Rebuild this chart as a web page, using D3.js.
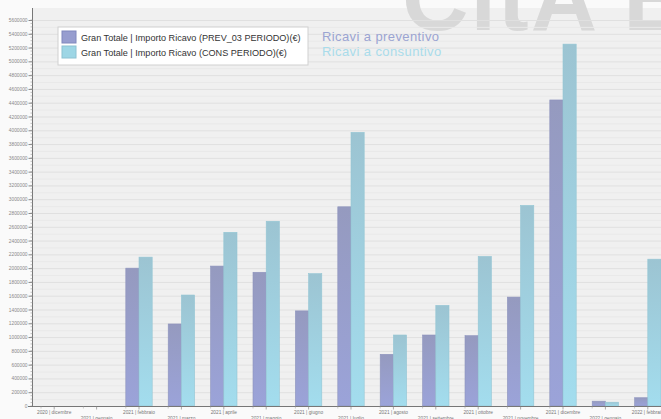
<!DOCTYPE html>
<html>
<head>
<meta charset="utf-8">
<script src="https://cdn.jsdelivr.net/npm/d3@7/dist/d3.min.js"></script>
<style>
  body { margin: 0; background: #fafafa; }
  svg { display: block; font-family: "Liberation Sans", Arial, sans-serif; }
</style>
</head>
<body>
<div id="chart"></div>
<script>

var width = 661;
var height = 419;

// periods on the x axis
var periodi = ['2020 | dicembre', '2021 | gennaio', '2021 | febbraio', '2021 | marzo', '2021 | aprile',
  '2021 | maggio', '2021 | giugno', '2021 | luglio', '2021 | agosto', '2021 | settembre',
  '2021 | ottobre', '2021 | novembre', '2021 | dicembre', '2022 | gennaio', '2022 | febbraio'];

// Gran Totale | Importo Ricavo (PREV_03 PERIODO)
var preventivo = [0, 0, 2000000, 1190000, 2030000, 1940000, 1380000, 2890000, 750000, 1030000,
  1020000, 1580000, 4440000, 70000, 120000];

// Gran Totale | Importo Ricavo (CONS PERIODO)
var consuntivo = [0, 0, 2160000, 1610000, 2520000, 2680000, 1920000, 3970000, 1030000, 1460000,
  2170000, 2910000, 5250000, 55000, 2130000];

var serie = ['Gran Totale | Importo Ricavo (PREV_03 PERIODO)(€)', 'Gran Totale | Importo Ricavo (CONS PERIODO)(€)'];
var yTicks = d3.range(0, 5600001, 200000);

var colPrev = '#979dcf', colCons = '#9dd6e5';

var svg = d3.select('#chart').append('svg')
  .attr('width', width).attr('height', height);

var defs = svg.append('defs');
function grad(id, top, bottom) {
  var g = defs.append('linearGradient').attr('id', id)
    .attr('x1', 0).attr('y1', 0).attr('x2', 0).attr('y2', 1);
  g.append('stop').attr('offset', '0%').attr('stop-color', top);
  g.append('stop').attr('offset', '100%').attr('stop-color', bottom);
}
grad('gPrev', '#959abf', '#9ba3d9');
grad('gCons', '#9cc4d2', '#a3ddee');

var x = d3.scaleBand().domain(periodi).range([33, 33 + 15 * 42.4]);
var xSub = d3.scaleBand().domain([0, 1]).range([8, x.bandwidth() - 8]);
var y = d3.scaleLinear().domain([0, 5600000]).range([406, 20]);

// plot background
svg.append('rect').attr('x', 32).attr('y', 8).attr('width', width - 32).attr('height', 398)
  .attr('fill', '#f0f0f0');

// watermark
svg.append('text').attr('x', 402).attr('y', 30)
  .attr('font-size', 92).attr('font-weight', 'bold')
  .attr('fill', '#d8d8d8').attr('letter-spacing', 2)
  .text('CitA BI');

// grid
svg.append('g').selectAll('line').data(yTicks.slice(1)).enter().append('line')
  .attr('x1', 32).attr('x2', width)
  .attr('y1', d => y(d) + 0.5).attr('y2', d => y(d) + 0.5)
  .attr('stroke', '#e0e0e0').attr('stroke-width', 1);
svg.append('g').selectAll('line').data(yTicks.slice(1)).enter().append('line')
  .attr('x1', 32).attr('x2', width)
  .attr('y1', d => y(d - 100000) + 0.5).attr('y2', d => y(d - 100000) + 0.5)
  .attr('stroke', '#e9e9e9').attr('stroke-width', 1);

// bars
var gruppi = svg.append('g').selectAll('g').data(periodi).enter().append('g')
  .attr('transform', d => 'translate(' + x(d) + ',0)');

gruppi.append('rect')
  .attr('x', xSub(0)).attr('width', xSub.bandwidth())
  .attr('y', (d, i) => y(preventivo[i]))
  .attr('height', (d, i) => y(0) - y(preventivo[i]))
  .attr('fill', 'url(#gPrev)').attr('stroke', '#8d93bd').attr('stroke-width', 0.6);

gruppi.append('rect')
  .attr('x', xSub(1)).attr('width', xSub.bandwidth())
  .attr('y', (d, i) => y(consuntivo[i]))
  .attr('height', (d, i) => y(0) - y(consuntivo[i]))
  .attr('fill', 'url(#gCons)').attr('stroke', '#93c6d4').attr('stroke-width', 0.6);

// y axis
var yAxis = d3.axisLeft(y).tickValues(yTicks).tickSize(4).tickFormat(d3.format('d'));
var yAxisGroup = svg.append('g').attr('transform', 'translate(32.5,0)').call(yAxis);
yAxisGroup.select('.domain').attr('d', 'M0,8V406').attr('stroke', '#777');
yAxisGroup.selectAll('.tick line').attr('stroke', '#888');
yAxisGroup.selectAll('.tick text').attr('fill', '#888').attr('font-size', 4.8)
  .attr('font-family', '"Liberation Sans", Arial, sans-serif').attr('x', -5);
// minor ticks
yAxisGroup.append('g').selectAll('line').data(d3.range(0, 5600001, 50000)).enter().append('line')
  .attr('x1', -2).attr('x2', 0).attr('y1', d => y(d)).attr('y2', d => y(d))
  .attr('stroke', '#999').attr('stroke-width', 0.6);

// x axis
var xAxisGroup = svg.append('g').attr('transform', 'translate(0,406.5)');
xAxisGroup.append('line').attr('x1', 28).attr('x2', width).attr('stroke', '#777');
xAxisGroup.selectAll('.tk').data(periodi).enter().append('line')
  .attr('x1', d => x(d) + x.bandwidth() / 2).attr('x2', d => x(d) + x.bandwidth() / 2)
  .attr('y1', 0).attr('y2', 3).attr('stroke', '#888').attr('stroke-width', 0.7);
xAxisGroup.selectAll('.tk2').data(periodi).enter().append('line')
  .attr('x1', d => x(d) + 8).attr('x2', d => x(d) + 8)
  .attr('y1', 0).attr('y2', 2).attr('stroke', '#aaa').attr('stroke-width', 0.6);
xAxisGroup.selectAll('text').data(periodi).enter().append('text')
  .attr('x', d => x(d) + x.bandwidth() / 2)
  .attr('y', (d, i) => i % 2 === 0 ? 7 : 13)
  .attr('text-anchor', 'middle').attr('font-size', 4.8).attr('fill', '#777')
  .text(d => d);

// legend
var legend = svg.append('g').attr('transform', 'translate(58,27)');
legend.append('rect').attr('width', 250).attr('height', 38)
  .attr('fill', '#ffffff').attr('stroke', '#d0d0d0');
legend.selectAll('.sw').data(serie).enter().append('rect')
  .attr('x', 4).attr('y', (d, i) => 4 + i * 15).attr('width', 14).attr('height', 12)
  .attr('fill', (d, i) => i === 0 ? colPrev : colCons)
  .attr('stroke', (d, i) => i === 0 ? '#8088bd' : '#8cc2d2');
legend.selectAll('.lt').data(serie).enter().append('text')
  .attr('x', 23).attr('y', (d, i) => 13.5 + i * 15)
  .attr('font-size', 9.1).attr('fill', '#333')
  .text(d => d);

// titles
svg.append('text').attr('x', 322).attr('y', 41).attr('font-size', 13)
  .attr('letter-spacing', 0.4)
  .attr('fill', '#9ba4d2').text('Ricavi a preventivo');
svg.append('text').attr('x', 322).attr('y', 56).attr('font-size', 13)
  .attr('letter-spacing', 0.4)
  .attr('fill', '#a9dceb').text('Ricavi a consuntivo');

</script>
</body>
</html>
